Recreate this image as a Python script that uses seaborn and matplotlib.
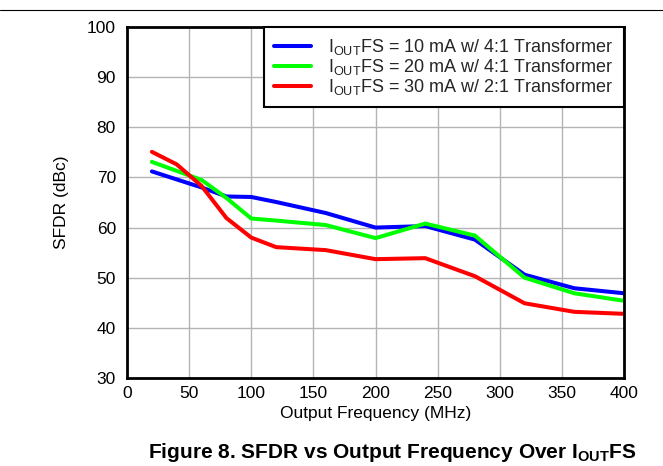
import numpy as np
import pandas as pd
import matplotlib
matplotlib.use("Agg")
import matplotlib.pyplot as plt
from matplotlib.lines import Line2D
import seaborn as sns

freq_mhz = [20, 40, 60, 80, 100, 120, 160, 200, 240, 280, 320, 360, 400]
sfdr_10ma = [71.2, 69.6, 68.0, 66.2, 66.1, 65.1, 62.9, 60.0, 60.3, 57.6, 50.6, 47.9, 46.9]
sfdr_20ma = [73.1, 71.3, 69.5, 65.9, 61.8, 61.4, 60.5, 57.9, 60.8, 58.4, 50.0, 46.9, 45.4]
sfdr_30ma = [75.1, 72.6, 68.3, 61.9, 58.0, 56.1, 55.5, 53.7, 53.9, 50.3, 44.9, 43.2, 42.8]
series_labels = [r"$\mathregular{I_{OUT}}$FS = 10 mA w/ 4:1 Transformer",
                 r"$\mathregular{I_{OUT}}$FS = 20 mA w/ 4:1 Transformer",
                 r"$\mathregular{I_{OUT}}$FS = 30 mA w/ 2:1 Transformer"]
x_ticks = [0, 50, 100, 150, 200, 250, 300, 350, 400]
y_ticks = [30, 40, 50, 60, 70, 80, 90, 100]

df = pd.concat([
    pd.DataFrame({"freq": freq_mhz, "sfdr": vals, "series": lab})
    for vals, lab in zip([sfdr_10ma, sfdr_20ma, sfdr_30ma], series_labels)
])

sns.set_theme(style="white")
plt.rcParams["font.family"] = ["Liberation Sans", "DejaVu Sans"]
plt.rcParams["mathtext.fontset"] = "custom"
plt.rcParams["mathtext.rm"] = "Liberation Sans"
plt.rcParams["mathtext.it"] = "Liberation Sans:italic"
plt.rcParams["mathtext.bf"] = "Liberation Sans:bold"

fig = plt.figure(figsize=(6.63, 4.66), dpi=100)
ax = fig.add_axes([0.1916, 0.1888, 0.7496, 0.7533])

palette = {series_labels[0]: "#0000ff", series_labels[1]: "#00ff00", series_labels[2]: "#ff0000"}
sns.lineplot(data=df, x="freq", y="sfdr", hue="series", palette=palette,
             linewidth=2.9, ax=ax, hue_order=series_labels)

ax.set_xlim(0, 400)
ax.set_ylim(30, 100)
ax.set_xticks(x_ticks)
ax.set_yticks(y_ticks)
ax.grid(True, color="#b4b4b4", linewidth=1.0)
ax.set_axisbelow(True)
for s in ax.spines.values():
    s.set_color("black")
    s.set_linewidth(2.0)
ax.tick_params(axis="y", length=0, labelsize=12.5, colors="black", pad=8)
ax.tick_params(axis="x", length=0, labelsize=12.5, colors="black", pad=6)
ax.set_xlabel("Output Frequency (MHz)", fontsize=12.5, color="black", labelpad=3)
ax.set_ylabel("SFDR (dBc)", fontsize=12.5, color="black", labelpad=13)

handles, labels = ax.get_legend_handles_labels()
leg = ax.legend(handles, labels, loc="upper right", fontsize=13, frameon=True,
                fancybox=False, edgecolor="black", framealpha=1,
                borderaxespad=0, handlelength=2.05, handletextpad=0.95,
                labelspacing=0.0, borderpad=0.55)
leg.get_frame().set_linewidth(1.5)

fig.text(0.591, 0.018, r"Figure 8. SFDR vs Output Frequency Over $\mathbf{I_{OUT}}$FS",
         ha="center", va="baseline", fontsize=15, fontweight="bold", color="black")

fig.add_artist(Line2D([0, 1], [1 - 9.5 / 466, 1 - 9.5 / 466], color="black", linewidth=0.8,
                      transform=fig.transFigure))

fig.savefig("out.png", dpi=100)
